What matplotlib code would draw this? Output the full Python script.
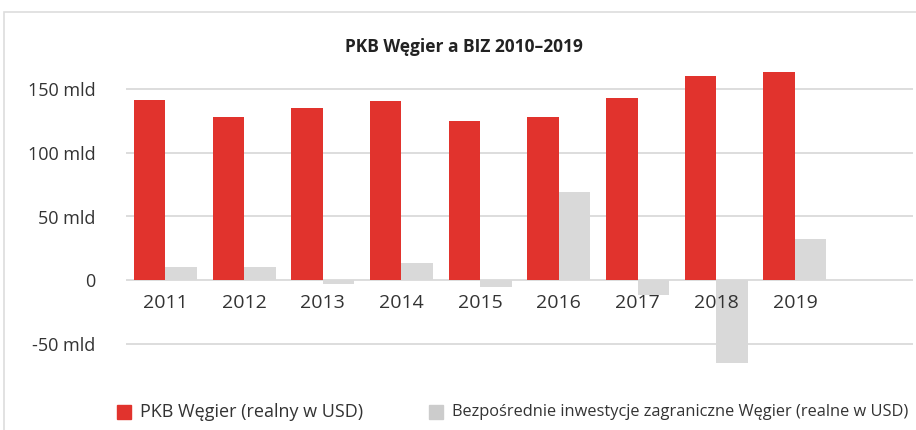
import matplotlib
matplotlib.use("Agg")
import matplotlib.pyplot as plt
from matplotlib.patches import Rectangle
import numpy as np

# ---- data ----
years = ['2011', '2012', '2013', '2014', '2015', '2016', '2017', '2018', '2019']
pkb = [142.0, 128.3, 135.4, 141.2, 125.0, 128.3, 143.0, 160.6, 163.8]
biz = [10.2, 10.2, -3.4, 13.1, -5.5, 69.3, -12.0, -65.0, 32.0]
yticks = [-50, 0, 50, 100, 150]
ytick_labels = ['-50 mld', '0', '50 mld', '100 mld', '150 mld']
title = 'PKB Węgier a BIZ 2010–2019'
legend_labels = ['PKB Węgier (realny w USD)',
                 'Bezpośrednie inwestycje zagraniczne Węgier (realne w USD)']

RED = '#E1332D'
GRAY = '#D9D9D9'
TXT = '#333333'
FONT = ['Open Sans', 'DejaVu Sans']

plt.rcParams['font.family'] = FONT

W, H = 916, 430
fig = plt.figure(figsize=(W / 100, H / 100), dpi=100)

# outer frame
fig.patches.append(Rectangle((4 / W, -0.1), 1.2, (1 - 12 / H) + 0.1,
                             transform=fig.transFigure, fill=False,
                             edgecolor='#DDDDDD', linewidth=1.2))

ax = fig.add_axes([126 / W, (H - 369) / H, (913 - 126) / W, (369 - 64) / H])
x = np.arange(len(years))
bw = 0.4
ax.bar(x - bw / 2, pkb, width=bw, color=RED, zorder=3)
ax.bar(x + bw / 2, biz, width=bw, color=GRAY, zorder=3)

ax.set_xlim(-0.5, 9.5)
ax.set_ylim(-70, 170)
ax.set_yticks(yticks)
ax.set_yticklabels(ytick_labels)
ax.tick_params(axis='y', length=0, pad=22, labelsize=13, labelcolor=TXT)
ax.set_xticks([])
for s in ax.spines.values():
    s.set_visible(False)
ax.grid(axis='y', color='#DADADA', linewidth=1.3, zorder=0)
ax.set_facecolor('none')

for i, yr in enumerate(years):
    ax.text(i, -18, yr, ha='center', va='center', fontsize=14, color=TXT)

fig.text(0.507, 1 - 47 / H, title, ha='center', va='center',
         fontsize=12.5, fontweight='bold', color='#222222')

# legend
ly = 1 - 412 / H
for xs, col, lab, fs in [(117, RED, legend_labels[0], 13),
                         (429, '#CCCCCC', legend_labels[1], 11.8)]:
    fig.patches.append(Rectangle((xs / W, ly - 7 / H), 14 / W, 14 / H,
                                 transform=fig.transFigure, color=col))
    fig.text((xs + 23) / W, ly, lab, ha='left', va='center', fontsize=fs,
             color=TXT)

fig.savefig('out.png', dpi=100)
